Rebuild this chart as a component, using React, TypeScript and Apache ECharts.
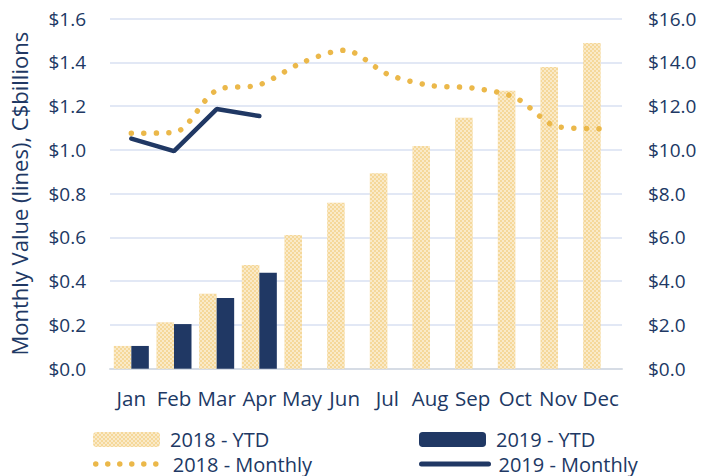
import React, { useEffect, useRef } from "react";
import * as echarts from "echarts";

const months = ["Jan", "Feb", "Mar", "Apr", "May", "Jun", "Jul", "Aug", "Sep", "Oct", "Nov", "Dec"];
const ytd2018 = [1.04, 2.12, 3.43, 4.74, 6.11, 7.59, 8.93, 10.18, 11.47, 12.71, 13.79, 14.89];
const ytd2019 = [1.04, 2.04, 3.23, 4.39];
const monthly2018 = [1.076, 1.08, 1.273, 1.298, 1.399, 1.456, 1.347, 1.295, 1.283, 1.239, 1.106, 1.097];
const monthly2019 = [1.052, 0.995, 1.187, 1.155];
const leftTicks = { min: 0, max: 1.6, interval: 0.2 };
const rightTicks = { min: 0, max: 16, interval: 2 };

const NAVY = "#203864";
const GOLD = "#EBB84A";
const FONT = "Open Sans";

export default function App() {
  const ref = useRef<HTMLDivElement>(null);
  useEffect(() => {
    const chart = echarts.init(ref.current!, undefined, { renderer: "svg" });
    const textStyle = { color: NAVY, fontFamily: FONT, fontSize: 19 };
    const mkLegend = (left: number, top: number, item: any) => ({
      left, top, padding: 0, orient: "horizontal", itemWidth: 67, itemHeight: 15, itemGap: 8,
      textStyle: { ...textStyle, fontSize: 20, lineHeight: 21, padding: [0, 0, 0, 5] },
      data: [item],
    });
    chart.setOption({
      animation: false,
      textStyle: { fontFamily: FONT },
      grid: { left: 107, right: 82, top: 18.7, bottom: 107.3 },
      legend: [
        mkLegend(93, 429, { name: "2018 - YTD" }),
        mkLegend(93, 453.5, {
          name: "2018 - Monthly",
          itemStyle: { opacity: 0 },
          lineStyle: { width: 5.5, type: [0.01, 12], cap: "round", color: GOLD },
        }),
        mkLegend(419, 429, { name: "2019 - YTD" }),
        mkLegend(419, 453.5, {
          name: "2019 - Monthly",
          itemStyle: { opacity: 0 },
          lineStyle: { width: 5, cap: "round", color: NAVY },
        }),
      ],
      xAxis: {
        type: "category",
        data: months,
        axisTick: { show: false },
        axisLine: { lineStyle: { color: "#D6DCE5", width: 2 } },
        axisLabel: { ...textStyle, fontSize: 20.5, margin: 19, interval: 0 },
      },
      yAxis: [
        {
          type: "value",
          ...leftTicks,
          name: "Monthly Value (lines), C$billions",
          nameLocation: "middle",
          nameGap: 80,
          nameTextStyle: { ...textStyle, fontSize: 22 },
          axisLabel: { ...textStyle, margin: 24, formatter: (v: number) => "$" + v.toFixed(1) },
          splitLine: { lineStyle: { color: "#D9E1F2", width: 1.5 } },
          axisLine: { show: false },
          axisTick: { show: false },
        },
        {
          type: "value",
          ...rightTicks,
          axisLabel: { ...textStyle, margin: 26, formatter: (v: number) => "$" + v.toFixed(1) },
          splitLine: { show: false },
          axisLine: { show: false },
          axisTick: { show: false },
        },
      ],
      series: [
        {
          name: "2018 - YTD",
          type: "bar",
          yAxisIndex: 1,
          data: ytd2018,
          barWidth: 17.5,
          barGap: "0%",
          itemStyle: {
            color: "#F5D89A",
            decal: {
              symbol: "rect",
              symbolSize: 1,
              dashArrayX: [[2, 2], [0, 2, 2, 0]],
              dashArrayY: [2, 0],
              color: "rgba(255,255,255,0.45)",
              rotation: 0,
            },
          },
        },
        {
          name: "2019 - YTD",
          type: "bar",
          yAxisIndex: 1,
          data: ytd2019,
          barWidth: 17.5,
          itemStyle: { color: NAVY },
        },
        {
          name: "2018 - Monthly",
          type: "line",
          yAxisIndex: 0,
          data: monthly2018,
          smooth: 0.3,
          symbol: "none",
          itemStyle: { color: GOLD },
          lineStyle: { color: GOLD, width: 5.5, type: [0.01, 12.5], cap: "round" },
          z: 3,
        },
        {
          name: "2019 - Monthly",
          type: "line",
          yAxisIndex: 0,
          data: monthly2019,
          symbol: "none",
          itemStyle: { color: NAVY },
          lineStyle: { color: NAVY, width: 4.5, cap: "round" },
          z: 4,
        },
      ],
    });
    return () => chart.dispose();
  }, []);
  return <div ref={ref} style={{ width: 704, height: 476, position: "absolute", left: 0, top: 0 }} />;
}
